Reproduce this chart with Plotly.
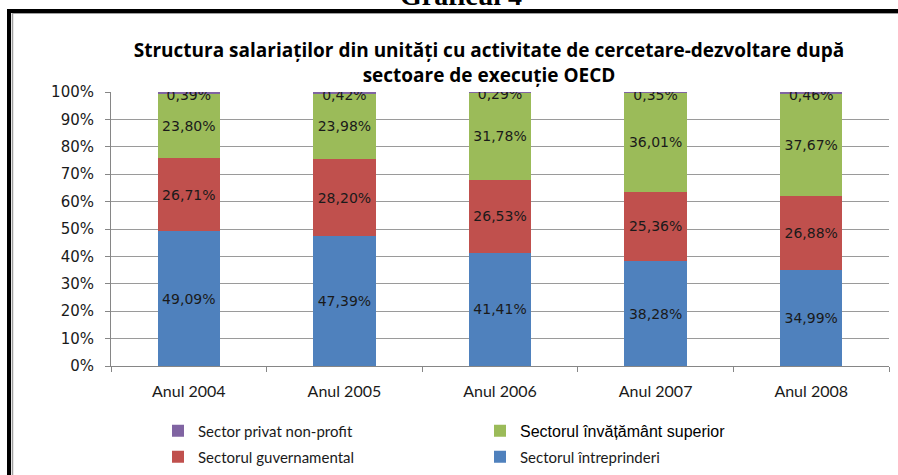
import plotly.graph_objects as go

years = ["Anul 2004", "Anul 2005", "Anul 2006", "Anul 2007", "Anul 2008"]
intreprinderi = [49.09, 47.39, 41.41, 38.28, 34.99]
guvernamental = [26.71, 28.20, 26.53, 25.36, 26.88]
invatamant = [23.80, 23.98, 31.78, 36.01, 37.67]
nonprofit = [0.39, 0.42, 0.29, 0.35, 0.46]
y_ticks = [0, 10, 20, 30, 40, 50, 60, 70, 80, 90, 100]

W, H = 898, 475
L, R, T, B = 111, 9, 92, 109
PW, PH = W - L - R, H - T - B


def px(x):
    return (x - L) / PW


def py(y):
    return (H - B - y) / PH


def cy(y):
    return 1 - y / H


def cx(x):
    return x / W


def fmt(v):
    return f"{v:.2f}".replace(".", ",") + "%"


LABEL_FONT = dict(family="DejaVu Sans", size=14, color="#1a1a1a")

fig = go.Figure()
series = [
    ("Sectorul întreprinderi", intreprinderi, "#4F81BD", "legend2"),
    ("Sectorul guvernamental", guvernamental, "#C0504D", "legend2"),
    ("<span style='font-family:Liberation Sans;font-size:16px;color:#000'>Sectorul învățământ superior</span>",
     invatamant, "#9BBB59", "legend"),
    ("Sector privat non-profit", nonprofit, "#8064A2", "legend"),
]
for name, vals, col, lg in series:
    is_np = vals is nonprofit
    fig.add_trace(go.Bar(
        x=years, y=vals, name=name, marker=dict(color=col, line=dict(width=0)),
        text=None if is_np else [fmt(v) for v in vals],
        textposition="inside", insidetextanchor="middle",
        textfont=LABEL_FONT, legend=lg, hoverinfo="skip",
    ))

# labels for the tiny non-profit segment at the top of each bar
tops = [a + b + c for a, b, c in zip(intreprinderi, guvernamental, invatamant)]
fig.add_trace(go.Scatter(
    x=years, y=[t + n / 2 - 1.3 for t, n in zip(tops, nonprofit)],
    mode="text", text=[fmt(v) for v in nonprofit], textposition="middle center",
    textfont=LABEL_FONT, showlegend=False, hoverinfo="skip",
))

shapes = [
    dict(type="line", xref="paper", yref="paper", x0=px(7), x1=px(900), y0=py(11), y1=py(11),
         line=dict(color="black", width=4)),
    dict(type="line", xref="paper", yref="paper", x0=px(9), x1=px(9), y0=py(9), y1=py(480),
         line=dict(color="black", width=4)),
    dict(type="line", xref="paper", yref="paper", x0=px(12.5), x1=px(900), y0=py(13.5), y1=py(13.5),
         line=dict(color="#a0a0a0", width=1)),
    dict(type="line", xref="paper", yref="paper", x0=px(12.5), x1=px(12.5), y0=py(13), y1=py(480),
         line=dict(color="#a0a0a0", width=1.5)),
]

fig.update_layout(
    template="none",
    width=W, height=H,
    margin=dict(l=L, r=R, t=T, b=B, autoexpand=False),
    paper_bgcolor="white", plot_bgcolor="white",
    barmode="stack", bargap=0.6,
    separators=",.",
    shapes=shapes,
    title=dict(
        text="Structura salariaților din unități cu activitate de cercetare-dezvoltare după<br>sectoare de execuție OECD",
        font=dict(family="Open Sans", size=19, color="#000", weight="bold"),
        x=cx(489), xref="container", xanchor="center",
        y=cy(57), yref="container", yanchor="middle",
    ),
    annotations=[dict(
        text="<b>Graficul 4</b>", xref="paper", yref="paper", x=px(461), y=py(-5),
        xanchor="center", yanchor="middle", showarrow=False,
        font=dict(family="Liberation Serif", size=28, color="#000"),
    )],
    xaxis=dict(
        type="category", showline=True, linecolor="#868686", linewidth=1,
        ticks="outside", tickson="boundaries", ticklen=5, tickcolor="#868686",
        tickfont=dict(family="Lato", size=16, color="#1a1a1a"),
        ticklabelstandoff=11,
        showgrid=False, automargin=False,
    ),
    yaxis=dict(
        range=[0, 100], tickvals=y_ticks, ticktext=[f"{v}%" for v in y_ticks],
        showline=True, linecolor="#868686", linewidth=1,
        ticks="outside", ticklen=5, tickcolor="#868686",
        showgrid=True, gridcolor="#9a9a9a", gridwidth=1,
        tickfont=dict(family="DejaVu Sans", size=15, color="#1a1a1a"),
        ticklabelstandoff=8,
        zeroline=False, automargin=False,
    ),
    legend=dict(
        orientation="h", xref="container", yref="container",
        x=cx(158), y=cy(431), xanchor="left", yanchor="middle",
        traceorder="reversed", entrywidth=277, entrywidthmode="pixels",
        font=dict(family="Lato", size=15, color="#1a1a1a"), bgcolor="rgba(0,0,0,0)",
    ),
    legend2=dict(
        orientation="h", xref="container", yref="container",
        x=cx(158), y=cy(457), xanchor="left", yanchor="middle",
        traceorder="reversed", entrywidth=277, entrywidthmode="pixels",
        font=dict(family="Lato", size=15, color="#1a1a1a"), bgcolor="rgba(0,0,0,0)",
    ),
    uniformtext=dict(mode=False),
)

# remove the browser's default 8px body margin so the figure sits at the page origin
fig.write_html("out.html", config={"displayModeBar": False},
               post_script="document.body.style.margin='0';")
